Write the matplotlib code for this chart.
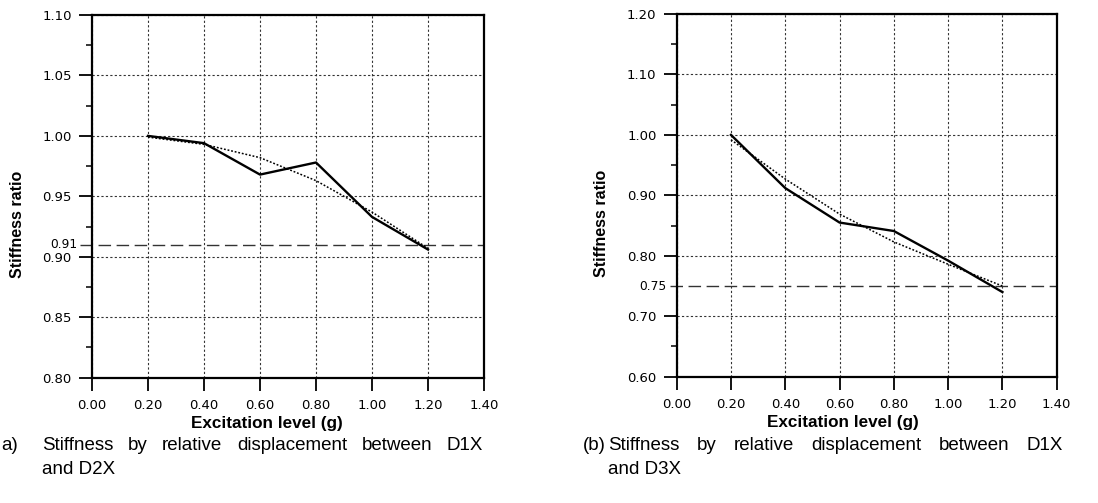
import matplotlib
matplotlib.use("Agg")
import matplotlib.pyplot as plt
from matplotlib.ticker import FixedLocator

plt.rcParams['font.family'] = ['Liberation Sans', 'DejaVu Sans']

# data
excitation = [0.2, 0.4, 0.6, 0.8, 1.0, 1.2]
ratio_d2x = [1.000, 0.994, 0.968, 0.978, 0.933, 0.906]
trend_d2x = [0.999, 0.993, 0.982, 0.963, 0.937, 0.907]
ratio_d3x = [1.000, 0.912, 0.855, 0.841, 0.792, 0.740]
trend_d3x = [0.992, 0.927, 0.869, 0.823, 0.786, 0.750]

x_ticks = [0.0, 0.2, 0.4, 0.6, 0.8, 1.0, 1.2, 1.4]
y_ticks_a = [0.80, 0.85, 0.90, 0.95, 1.00, 1.05, 1.10]
y_minor_a = [0.825, 0.875, 0.925, 0.975, 1.025, 1.075]
y_ticks_b = [0.60, 0.70, 0.80, 0.90, 1.00, 1.10, 1.20]
y_minor_b = [0.65, 0.85, 0.95, 1.05, 1.15]
limit_a = 0.91
limit_b = 0.75

caption_a = ["a)", "Stiffness by relative displacement between D1X", "and D2X"]
caption_b = ["(b)", "Stiffness by relative displacement between D1X", "and D3X"]

W, H = 1098, 503
fig = plt.figure(figsize=(W / 100, H / 100), dpi=100)
ax_a = fig.add_axes([92 / W, 1 - 377.7 / H, 392 / W, 362.7 / H])
ax_b = fig.add_axes([676.7 / W, 1 - 376.7 / H, 380 / W, 362.7 / H])

tick_font = {'family': 'DejaVu Sans', 'size': 9.5}


def style_axes(ax, yt, ym, ylim, lim, lim_x, lab_x, ylab_x, xlab_x):
    ax.set_xlim(0, 1.4)
    ax.set_ylim(*ylim)
    ax.set_xticks(x_ticks)
    ax.set_xticklabels([f"{v:.2f}" for v in x_ticks], fontdict=tick_font)
    ax.set_yticks(yt)
    ax.set_yticklabels([f"{v:.2f}" for v in yt], fontdict=tick_font)
    ax.yaxis.set_minor_locator(FixedLocator(ym))
    ax.tick_params(axis='both', which='major', direction='out', length=9.5,
                   width=1.3, color='black')
    ax.tick_params(axis='y', which='major', pad=5)
    ax.tick_params(axis='x', which='major', pad=6)
    ax.tick_params(axis='y', which='minor', direction='out', length=4.5, width=1.1)
    for s in ax.spines.values():
        s.set_linewidth(1.6)
    ax.grid(True, which='major', color='#333333', linestyle=(0, (2, 2)), linewidth=0.8)
    ax.set_axisbelow(True)
    # reference level
    ax.axhline(lim, xmin=lim_x, xmax=1, color='#333333', linewidth=1.0,
               linestyle=(0, (9, 4)), clip_on=False, zorder=2)
    ax.text(lab_x, lim, f"{lim:.2f}", transform=ax.get_yaxis_transform(),
            ha='right', va='center', family='DejaVu Sans', fontsize=8.8)
    ax.text(ylab_x, 0.423, "Stiffness ratio", transform=ax.transAxes, rotation=90,
            ha='center', va='center', fontsize=11.5, fontweight='bold')
    ax.text(xlab_x, -0.125, "Excitation level (g)", transform=ax.transAxes,
            ha='center', va='center', fontsize=12.3, fontweight='bold')


style_axes(ax_a, y_ticks_a, y_minor_a, (0.80, 1.10), limit_a, -0.031, -0.038, -0.191, 0.446)
style_axes(ax_b, y_ticks_b, y_minor_b, (0.60, 1.20), limit_b, -0.018, -0.026, -0.197, 0.438)

ax_a.plot(excitation, ratio_d2x, color='black', linewidth=1.7, zorder=4)
ax_a.plot(excitation, trend_d2x, color='black', linewidth=1.1, linestyle=(0, (1.2, 1.2)), zorder=3)
ax_b.plot(excitation, ratio_d3x, color='black', linewidth=1.7, zorder=4)
ax_b.plot(excitation, trend_d3x, color='black', linewidth=1.1, linestyle=(0, (1.2, 1.2)), zorder=3)

# captions, first line justified between two pixel edges
renderer = fig.canvas.get_renderer()
cap_size = 13.5


def caption(parts, x_lab, x_text, x_right, y1, y2):
    fig.text(x_lab / W, 1 - y1 / H, parts[0], fontsize=cap_size, va='baseline')
    words = parts[1].split()
    texts = [fig.text(0, 1 - y1 / H, w, fontsize=cap_size, va='baseline') for w in words]
    widths = [t.get_window_extent(renderer).width for t in texts]
    gap = (x_right - x_text - sum(widths)) / (len(words) - 1)
    x = x_text
    for t, w in zip(texts, widths):
        t.set_x(x / W)
        x += w + gap
    fig.text(x_text / W, 1 - y2 / H, parts[2], fontsize=cap_size, va='baseline')


caption(caption_a, 1, 42, 483, 450.5, 474.5)
caption(caption_b, 583, 608, 1063, 450.5, 474.5)

fig.savefig("out.png", dpi=100)
